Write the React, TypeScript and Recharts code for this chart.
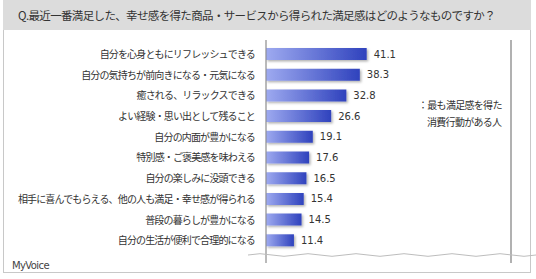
import { BarChart, Bar, XAxis, YAxis, CartesianGrid, LabelList, ReferenceLine } from "recharts";

const title = "Q.最近一番満足した、幸せ感を得た商品・サービスから得られた満足感はどのようなものですか？";

const categories = [
  "自分を心身ともにリフレッシュできる",
  "自分の気持ちが前向きになる・元気になる",
  "癒される、リラックスできる",
  "よい経験・思い出として残ること",
  "自分の内面が豊かになる",
  "特別感・ご褒美感を味わえる",
  "自分の楽しみに没頭できる",
  "相手に喜んでもらえる、他の人も満足・幸せ感が得られる",
  "普段の暮らしが豊かになる",
  "自分の生活が便利で合理的になる",
];

const values = [41.1, 38.3, 32.8, 26.6, 19.1, 17.6, 16.5, 15.4, 14.5, 11.4];

const xTicks = [0, 20, 40, 60, 80, 100];

const legendLines = ["最も満足感を得た", "消費行動がある人"];

const data = categories.map((name, i) => ({ name, value: values[i] }));

const jp = "'Noto Sans CJK JP', 'Noto Sans', sans-serif";

function wavePath(x0: number, x1: number, y: number, period: number, amp: number) {
  let d = `M${x0},${y}`;
  for (let x = x0; x < x1; x += period / 2) {
    const dir = ((x - x0) / (period / 2)) % 2 === 0 ? -1 : 1;
    d += ` Q${x + period / 4},${y + dir * amp * 2} ${x + period / 2},${y}`;
  }
  return d;
}

export default function App() {
  return (
    <div style={{ position: "absolute", left: 0, top: 0, width: 536, height: 279, background: "#fff", overflow: "hidden" }}>
      <div
        style={{
          position: "absolute",
          left: 3,
          top: 0,
          width: 526,
          height: 271,
          border: "1px solid #c8c8c8",
        }}
      />
      <div
        style={{
          position: "absolute",
          left: 3,
          top: 0,
          width: 528,
          height: 30,
          background: "#dcdcdc",
          fontFamily: jp,
          fontSize: 11.5,
          letterSpacing: -0.65,
          color: "#333",
          lineHeight: "30px",
          paddingLeft: 15,
          boxSizing: "border-box",
          whiteSpace: "nowrap",
        }}
      >
        {title}
      </div>
      <div style={{ position: "absolute", left: 0, top: 0 }}>
        <BarChart
          width={536}
          height={279}
          data={data}
          layout="vertical"
          margin={{ top: 40, right: 25, bottom: 16, left: 0 }}
        >
          <defs>
            <linearGradient id="barGrad" x1="0" y1="0" x2="1" y2="0">
              <stop offset="0%" stopColor="#9eaaf0" />
              <stop offset="100%" stopColor="#2f42bd" />
            </linearGradient>
            <filter id="shadow" x="-10%" y="-30%" width="130%" height="190%">
              <feDropShadow dx="1.5" dy="1.5" stdDeviation="1" floodColor="#000" floodOpacity="0.3" />
            </filter>
          </defs>
          <CartesianGrid horizontal={false} stroke="#d9d9d9" />
          <XAxis
            type="number"
            orientation="top"
            domain={[0, 100]}
            ticks={xTicks}
            tick={false}
            tickLine={false}
            height={0}
            axisLine={{ stroke: "#9a9a9a" }}
          />
          <YAxis
            type="category"
            dataKey="name"
            width={266}
            tickLine={false}
            tickSize={6}
            tickMargin={5}
            padding={{ top: 4, bottom: 12 }}
            axisLine={{ stroke: "#888" }}
            tick={{ fontSize: 10, fill: "#333", fontFamily: jp, letterSpacing: -0.85 }}
            interval={0}
          />
          <ReferenceLine x={100} stroke="#777" />
          <Bar
            dataKey="value"
            barSize={12}
            fill="url(#barGrad)"
            filter="url(#shadow)"
            isAnimationActive={false}
          >
            <LabelList
              dataKey="value"
              position="right"
              offset={7}
              style={{ fontSize: 10, fill: "#333", fontFamily: "'DejaVu Sans', Verdana, sans-serif" }}
            />
          </Bar>
        </BarChart>
      </div>
      <svg width={536} height={279} style={{ position: "absolute", left: 0, top: 0, pointerEvents: "none" }}>
        <path d={wavePath(248, 524, 255, 48, 1.3)} fill="none" stroke="#bdbdbd" strokeWidth={1} />
        <text x={418} y={109} fontSize={10} fill="#333" fontFamily={jp} letterSpacing={-0.7}>
          ：{legendLines[0]}
        </text>
        <text x={427} y={126} fontSize={10} fill="#333" fontFamily={jp} letterSpacing={-0.7}>
          {legendLines[1]}
        </text>
        <text x={12} y={269} fontSize={10} fill="#444" fontFamily="'DejaVu Sans', sans-serif" letterSpacing={-0.6}>
          MyVoice
        </text>
      </svg>
    </div>
  );
}
